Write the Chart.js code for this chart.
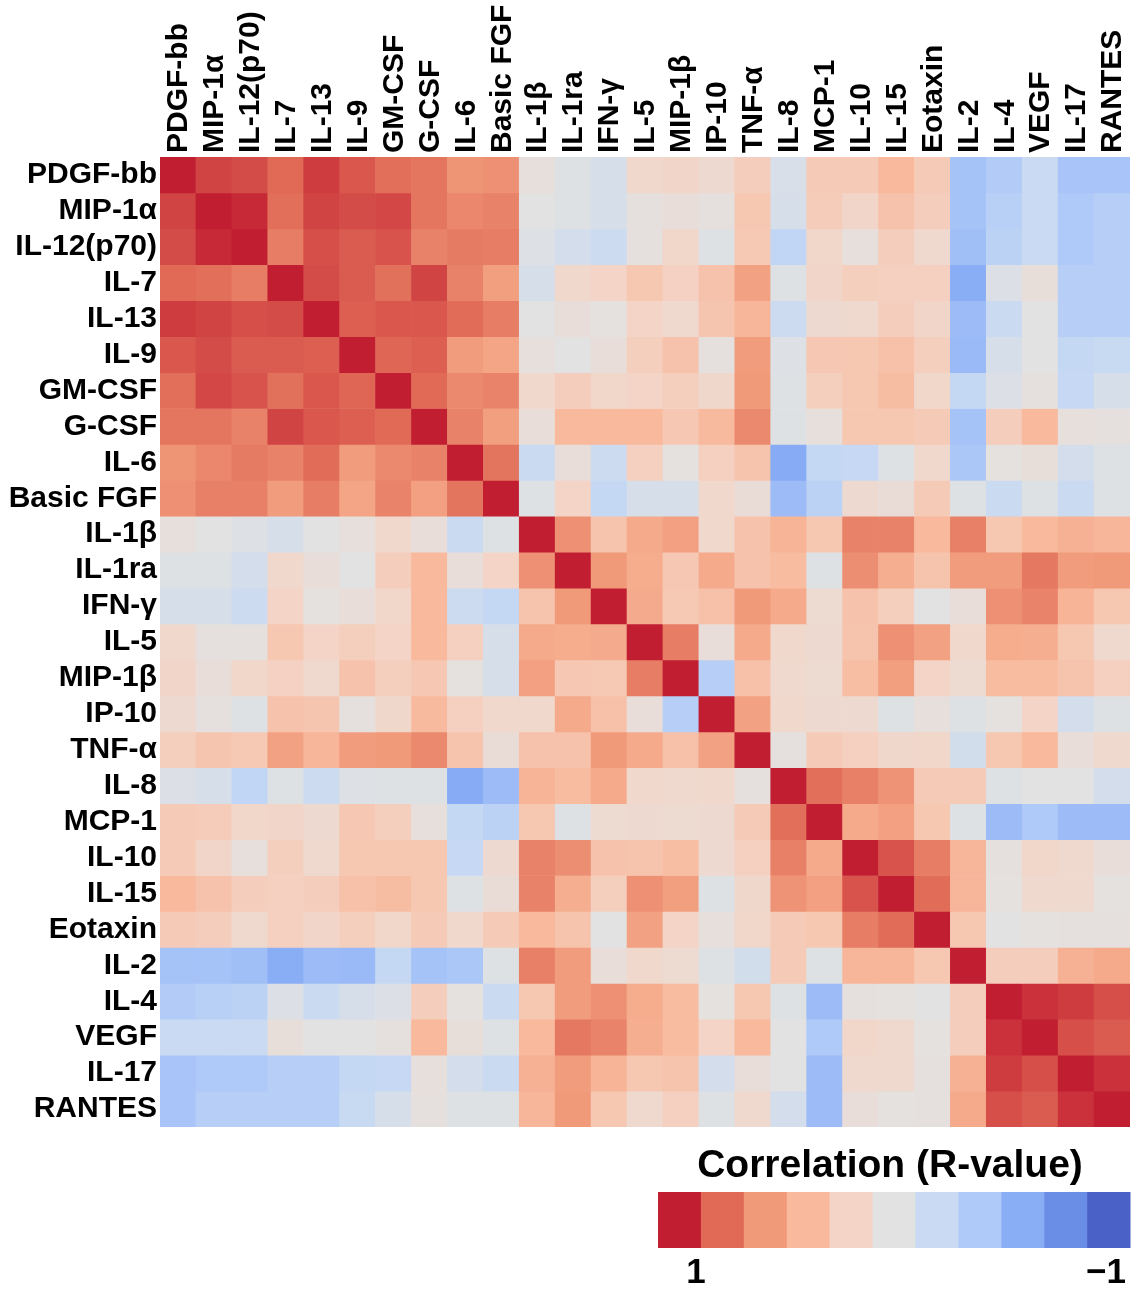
<!DOCTYPE html>
<html>
<head>
<meta charset="utf-8">
<script src="https://cdn.jsdelivr.net/npm/chart.js@4.4.1/dist/chart.umd.min.js"></script>
<style>
  html, body { margin: 0; padding: 0; background: #fff; }
  #wrap { width: 1131px; height: 1292px; }
</style>
</head>
<body>
<div id="wrap"><canvas id="heat"></canvas></div>
<script>
// markers, same order for rows and columns
const markers = ['PDGF-bb', 'MIP-1α', 'IL-12(p70)', 'IL-7', 'IL-13', 'IL-9', 'GM-CSF', 'G-CSF', 'IL-6', 'Basic FGF',
  'IL-1β', 'IL-1ra', 'IFN-γ', 'IL-5', 'MIP-1β', 'IP-10', 'TNF-α', 'IL-8', 'MCP-1', 'IL-10', 'IL-15', 'Eotaxin',
  'IL-2', 'IL-4', 'VEGF', 'IL-17', 'RANTES'];

// R values, one row per marker
const rPDGFbb  = [1, .9, .88, .8, .92, .85, .78, .75, .62, .64, .05, -.03, -.1, .15, .18, .13, .25, -.07, .27, .27, .4, .27, -.45, -.38, -.2, -.44, -.44];
const rMIP1a   = [.9, 1, .97, .78, .9, .88, .89, .75, .68, .7, 0, -.03, -.1, .03, .07, .03, .3, -.1, .26, .18, .33, .25, -.45, -.33, -.2, -.4, -.34];
const rIL12    = [.88, .97, 1, .72, .87, .84, .86, .7, .73, .72, -.04, -.12, -.18, .03, .17, -.03, .28, -.26, .17, .04, .25, .14, -.48, -.3, -.2, -.4, -.34];
const rIL7     = [.8, .78, .72, 1, .88, .84, .77, .9, .7, .57, -.1, .15, .2, .3, .22, .33, .55, -.03, .18, .24, .23, .23, -.6, -.05, .06, -.34, -.34];
const rIL13    = [.92, .9, .87, .88, 1, .83, .85, .85, .79, .72, 0, .07, .02, .2, .14, .31, .42, -.17, .13, .14, .25, .18, -.5, -.19, 0, -.34, -.34];
const rIL9     = [.85, .88, .84, .84, .83, 1, .81, .83, .58, .53, .04, 0, .07, .24, .33, .03, .58, -.04, .29, .3, .34, .24, -.52, -.1, 0, -.24, -.21];
const rGMCSF   = [.78, .89, .86, .77, .85, .81, 1, .8, .67, .69, .15, .25, .17, .2, .24, .16, .6, -.03, .24, .3, .37, .17, -.23, -.05, .03, -.22, -.1];
const rGCSF    = [.75, .75, .7, .9, .85, .83, .8, 1, .7, .57, .07, .4, .4, .4, .29, .39, .67, -.03, .05, .3, .3, .27, -.45, .25, .4, .04, .03];
const rIL6     = [.62, .68, .73, .7, .79, .58, .67, .7, 1, .76, -.19, .07, -.18, .23, .02, .23, .32, -.62, -.24, -.22, -.03, .15, -.42, .02, .06, -.12, -.03];
const rBasicFGF= [.64, .71, .71, .58, .72, .53, .69, .56, .76, 1, -.03, .2, -.24, -.1, -.1, .15, .08, -.5, -.3, .13, .08, .27, -.03, -.19, -.03, -.19, -.03];
const rIL1b    = [.05, 0, -.04, -.1, 0, .04, .15, .07, -.19, -.03, 1, .64, .32, .5, .56, .15, .33, .43, .3, .7, .7, .4, .71, .3, .4, .45, .42];
const rIL1ra   = [-.03, -.03, -.12, .15, .07, 0, .25, .4, .07, .2, .64, 1, .6, .48, .29, .5, .33, .38, -.03, .65, .47, .32, .58, .58, .74, .58, .6];
const rIFNg    = [-.1, -.1, -.18, .2, .02, .07, .17, .4, -.18, -.24, .32, .6, 1, .49, .28, .34, .6, .5, .12, .33, .24, 0, .07, .64, .69, .43, .3];
const rIL5     = [.15, .03, .03, .3, .2, .24, .2, .4, .23, -.1, .5, .48, .49, 1, .72, .07, .5, .15, .13, .32, .64, .55, .15, .48, .47, .3, .14];
const rMIP1b   = [.18, .07, .17, .22, .14, .33, .24, .29, .02, -.1, .56, .29, .28, .72, 1, -.34, .34, .14, .12, .36, .57, .2, .12, .38, .38, .32, .23];
const rIP10    = [.13, .03, -.03, .33, .31, .03, .16, .39, .23, .15, .15, .5, .34, .07, -.34, 1, .55, .15, .13, .13, -.03, .05, -.03, .02, .2, -.12, -.03];
const rTNFa    = [.24, .31, .28, .55, .42, .58, .6, .67, .32, .08, .33, .33, .6, .5, .34, .55, 1, .03, .27, .23, .16, .17, -.13, .3, .4, .07, .14];
const rIL8     = [-.05, -.1, -.26, -.03, -.17, -.04, -.03, -.03, -.62, -.5, .43, .38, .5, .15, .14, .15, .03, 1, .78, .71, .63, .27, .27, -.03, 0, 0, -.12];
const rMCP1    = [.27, .26, .17, .18, .13, .29, .24, .05, -.24, -.3, .3, -.03, .12, .13, .12, .13, .27, .78, 1, .5, .56, .3, -.03, -.5, -.4, -.5, -.5];
const rIL10    = [.27, .18, .04, .24, .14, .3, .3, .3, -.22, .13, .7, .65, .33, .32, .36, .13, .23, .71, .5, 1, .86, .72, .42, .03, .17, .14, .07];
const rIL15    = [.4, .33, .25, .23, .25, .34, .37, .3, -.03, .08, .7, .47, .24, .64, .57, -.03, .16, .63, .56, .86, 1, .79, .42, .02, .14, .14, .02];
const rEotaxin = [.27, .25, .14, .23, .18, .24, .17, .27, .15, .27, .4, .32, 0, .55, .2, .05, .17, .27, .3, .72, .79, 1, .3, 0, .02, .03, .03];
const rIL2     = [-.45, -.45, -.48, -.6, -.5, -.52, -.23, -.45, -.42, -.03, .71, .58, .07, .15, .12, -.03, -.13, .27, -.03, .42, .42, .3, 1, .25, .25, .45, .5];
const rIL4     = [-.38, -.33, -.3, -.05, -.19, -.1, -.05, .25, .02, -.19, .3, .58, .64, .48, .38, .02, .3, -.03, -.5, .03, .02, 0, .25, 1, .95, .92, .87];
const rVEGF    = [-.2, -.2, -.2, .06, 0, 0, .03, .4, .06, -.03, .4, .74, .69, .47, .38, .2, .4, 0, -.4, .17, .14, .02, .25, .95, 1, .87, .84];
const rIL17    = [-.44, -.4, -.4, -.34, -.34, -.24, -.22, .04, -.12, -.19, .45, .58, .43, .3, .32, -.12, .07, 0, -.5, .14, .14, .03, .45, .92, .87, 1, .95];
const rRANTES  = [-.44, -.34, -.34, -.34, -.34, -.21, -.1, .03, -.03, -.03, .42, .6, .3, .14, .23, -.03, .14, -.12, -.5, .07, .02, .03, .5, .87, .84, .95, 1];

const matrix = [rPDGFbb, rMIP1a, rIL12, rIL7, rIL13, rIL9, rGMCSF, rGCSF, rIL6, rBasicFGF, rIL1b, rIL1ra, rIFNg,
  rIL5, rMIP1b, rIP10, rTNFa, rIL8, rMCP1, rIL10, rIL15, rEotaxin, rIL2, rIL4, rVEGF, rIL17, rRANTES];

// colour scale, 1 -> -1
const scaleStops = [1, .8, .6, .4, .2, 0, -.2, -.4, -.6, -.8, -1];
const legendColors = ['#c21e32', '#e06a56', '#f09a7a', '#f8b99c', '#f4d4c6', '#e2e2e2',
  '#c9daf2', '#afcaf8', '#8aaef6', '#6a8ee6', '#4a62c8'];
const legendTicks = ['1', '−1'];

function hexRgb(h) {
  return [parseInt(h.slice(1, 3), 16), parseInt(h.slice(3, 5), 16), parseInt(h.slice(5, 7), 16)];
}
function colorFor(v) {
  for (let k = 0; k < scaleStops.length - 1; k++) {
    const a = scaleStops[k], b = scaleStops[k + 1];
    if (v <= a && v >= b) {
      const t = (a - v) / (a - b);
      const c1 = hexRgb(legendColors[k]), c2 = hexRgb(legendColors[k + 1]);
      const c = c1.map((x, i) => Math.round(x + (c2[i] - x) * t));
      return 'rgb(' + c.join(',') + ')';
    }
  }
  return legendColors[0];
}

const labelFont = { family: 'Arial, "Liberation Sans", Helvetica, sans-serif', size: 30, weight: 'bold' };

const colorBar = {
  id: 'colorBar',
  afterDraw(chart) {
    const ctx = chart.ctx;
    const x0 = 658, x1 = 1130, y0 = 1192, h = 56;
    const w = (x1 - x0) / legendColors.length;
    ctx.save();
    legendColors.forEach((c, i) => {
      ctx.fillStyle = c;
      ctx.fillRect(x0 + i * w, y0, w + 0.5, h);
    });
    ctx.fillStyle = '#000';
    ctx.textBaseline = 'alphabetic';
    ctx.font = 'bold 39px Arial, "Liberation Sans", sans-serif';
    ctx.textAlign = 'center';
    ctx.fillText('Correlation (R-value)', 890, 1177);
    ctx.font = 'bold 35px Arial, "Liberation Sans", sans-serif';
    ctx.fillText(legendTicks[0], 696, 1283);
    ctx.textAlign = 'right';
    ctx.fillText(legendTicks[1], 1126, 1283);
    ctx.restore();
  }
};

new Chart(document.getElementById('heat'), {
  type: 'bar',
  data: {
    labels: markers,
    datasets: matrix.map((row, i) => ({
      label: markers[i],
      data: markers.map(() => 1),
      backgroundColor: row.map(colorFor),
      borderWidth: 0,
      barPercentage: 1,
      categoryPercentage: 1
    }))
  },
  options: {
    responsive: true,
    maintainAspectRatio: false,
    animation: false,
    devicePixelRatio: 1,
    layout: { padding: { left: 0, top: 0, right: 1, bottom: 165 } },
    plugins: {
      legend: { display: false },
      tooltip: { enabled: false }
    },
    scales: {
      x: {
        type: 'category',
        position: 'top',
        stacked: true,
        grid: { display: false, drawTicks: false },
        border: { display: false },
        ticks: { autoSkip: false, minRotation: 90, maxRotation: 90, padding: 4, labelOffset: 37,
          color: '#000', font: labelFont },
        afterFit: (s) => { s.height = 157; }
      },
      y: {
        type: 'linear',
        stacked: true,
        reverse: true,
        min: 0,
        max: markers.length,
        grid: { display: false, drawTicks: false },
        border: { display: false },
        afterBuildTicks: (s) => { s.ticks = markers.map((m, i) => ({ value: i + 0.5 })); },
        ticks: { autoSkip: false, padding: 3, color: '#000', font: labelFont,
          callback: (v, i) => markers[i] },
        afterFit: (s) => { s.width = 160; }
      }
    }
  },
  plugins: [colorBar]
});
</script>
</body>
</html>
